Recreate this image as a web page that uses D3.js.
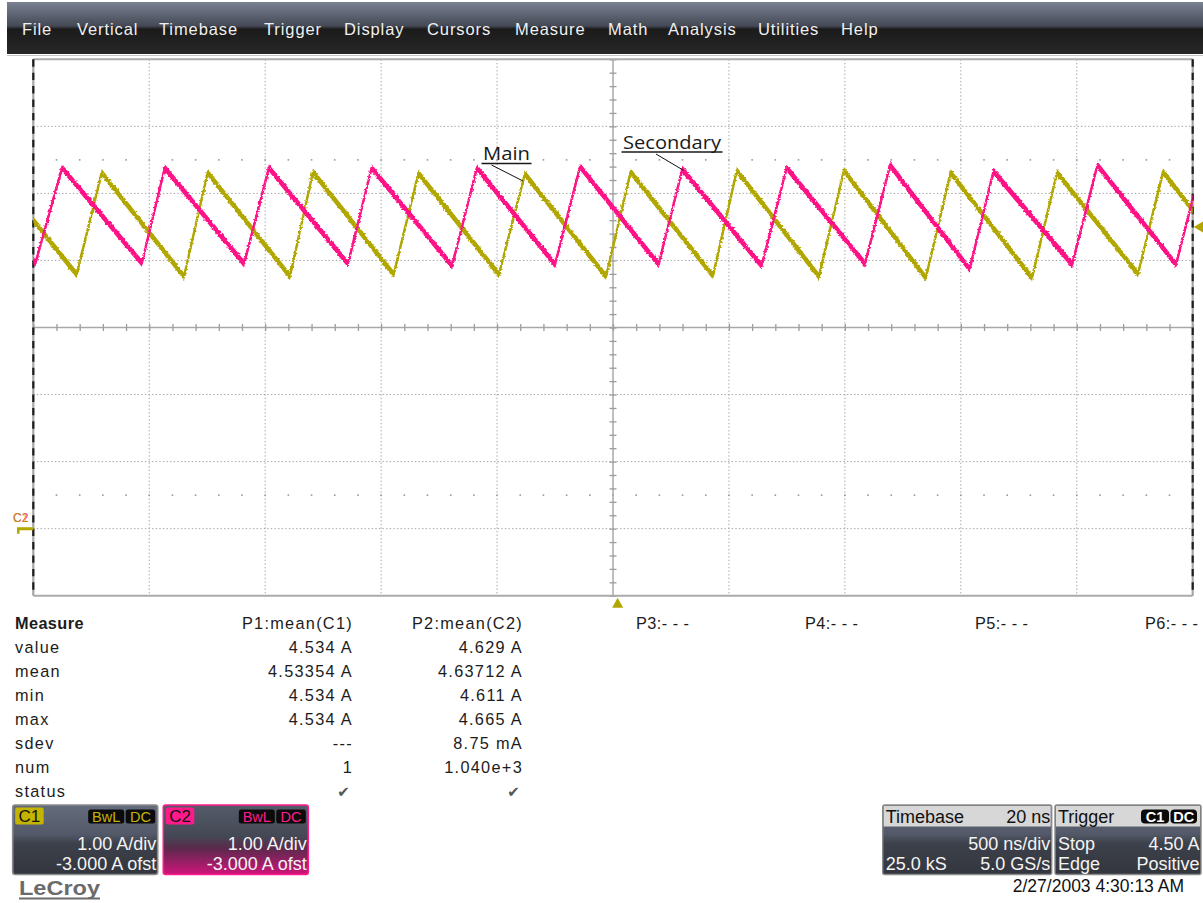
<!DOCTYPE html>
<html>
<head>
<meta charset="utf-8">
<script src="https://cdn.jsdelivr.net/npm/d3@7"></script>
<style>
  html, body { margin: 0; padding: 0; background: #fff; }
  svg { display: block; font-family: "Liberation Sans", Arial, sans-serif; }
</style>
</head>
<body>
<svg id="scope" width="1203" height="903"></svg>
<script>
// ---------------- data ----------------
const menuItems = ["File", "Vertical", "Timebase", "Trigger", "Display", "Cursors",
                   "Measure", "Math", "Analysis", "Utilities", "Help"];

// C1 (Main inductor current): sawtooth vertices, time in ns, current in A
const c1Times = [-2663, -2313, -2205, -1850, -1748, -1393, -1294, -946, -839, -492, -380, -30,
                 76, 431, 534, 888, 996, 1349, 1456, 1807, 1915, 2264, 2372, 2721];
const c1Amps  = [5.30, 3.79, 5.31, 3.76, 5.31, 3.76, 5.32, 3.79, 5.30, 3.79, 5.29, 3.76,
                 5.32, 3.77, 5.34, 3.76, 5.34, 3.74, 5.31, 3.74, 5.31, 3.80, 5.32, 3.77];

// C2 (Secondary inductor current)
const c2Times = [-2823, -2491, -2376, -2032, -1933, -1591, -1484, -1143, -1041, -694, -587, -250,
                 -142, 197, 299, 641, 749, 1087, 1195, 1538, 1641, 1980, 2089, 2428, 2536];
const c2Amps  = [5.40, 3.96, 5.38, 3.96, 5.38, 3.95, 5.38, 3.95, 5.38, 3.92, 5.38, 3.94,
                 5.40, 3.94, 5.36, 3.92, 5.38, 3.95, 5.42, 3.87, 5.33, 3.94, 5.42, 3.94, 5.40];

// acquisition settings
const timePerDiv = 500;      // ns/div
const hDivs = 10;
const ampsPerDiv = 1.0;      // A/div
const vDivs = 8;
const offsetAmps = -3.0;     // A ofst
const triggerDelay = 20;     // ns
const triggerLevel = 4.50;   // A

// annotations: label text and the vertex index they point at
const annotations = [
  { text: "Main",      series: "c1", index: 10 },
  { text: "Secondary", series: "c2", index: 14 }
];

// measurement table
const paramHeaders = ["P1:mean(C1)", "P2:mean(C2)", "P3:- - -", "P4:- - -", "P5:- - -", "P6:- - -"];
const measureRows  = ["value", "mean", "min", "max", "sdev", "num", "status"];
const p1Values     = ["4.534 A", "4.53354 A", "4.534 A", "4.534 A", "---", "1", "\u2714"];
const p2Values     = ["4.629 A", "4.63712 A", "4.611 A", "4.665 A", "8.75 mA", "1.040e+3", "\u2714"];

// status boxes
const channelBoxes = [
  { name: "C1", scale: "1.00 A/div", ofst: "-3.000 A ofst", color: "#c3b400" },
  { name: "C2", scale: "1.00 A/div", ofst: "-3.000 A ofst", color: "#ff1a8c" }
];
const timebaseInfo = { title: "Timebase", delay: "20 ns", perDiv: "500 ns/div", samples: "25.0 kS", rate: "5.0 GS/s" };
const triggerInfo  = { title: "Trigger", src: "C1", coupling: "DC", mode: "Stop", level: "4.50 A", type: "Edge", slope: "Positive" };
const timestamp = "2/27/2003 4:30:13 AM";

// ---------------- layout ----------------
const W = 1203, H = 903;
const plot = { left: 33.3, right: 1192.7, top: 59.3, bottom: 595.7 };
const menuX = [22, 77, 159, 264, 344, 427, 515, 608, 668, 758, 841];
const C1_COLOR = "#b1a700", C2_COLOR = "#ff1286";

const svg = d3.select("#scope");
const defs = svg.append("defs");

const centerAmps = -offsetAmps;
const x = d3.scaleLinear()
  .domain([-timePerDiv * hDivs / 2, timePerDiv * hDivs / 2])
  .range([plot.left, plot.right]);
const y = d3.scaleLinear()
  .domain([centerAmps - ampsPerDiv * vDivs / 2, centerAmps + ampsPerDiv * vDivs / 2])
  .range([plot.bottom, plot.top]);

// ---------------- gradients / filters ----------------
function vGrad(id, stops) {
  const g = defs.append("linearGradient").attr("id", id)
    .attr("x1", 0).attr("y1", 0).attr("x2", 0).attr("y2", 1);
  stops.forEach(([o, c]) => g.append("stop").attr("offset", o).attr("stop-color", c));
}
vGrad("menuGrad", [[0, "#7a8192"], [0.46, "#444955"], [0.52, "#1b1b1b"], [1, "#272727"]]);
vGrad("boxGrad",  [[0, "#656c7c"], [0.42, "#535968"], [0.55, "#3d414b"], [1, "#33363e"]]);
vGrad("box2Grad", [[0, "#555b69"], [0.45, "#444855"], [0.62, "#5a2a4c"], [1, "#d0147a"]]);

// slight roughness on the trace edges
const jitter = defs.append("filter").attr("id", "jitter")
  .attr("filterUnits", "userSpaceOnUse")
  .attr("x", 0).attr("y", 0).attr("width", W).attr("height", H);
jitter.append("feTurbulence").attr("type", "fractalNoise")
  .attr("baseFrequency", "0.4 0.55").attr("numOctaves", 1).attr("seed", 4).attr("result", "n");
jitter.append("feDisplacementMap").attr("in", "SourceGraphic").attr("in2", "n")
  .attr("scale", 3.4).attr("xChannelSelector", "R").attr("yChannelSelector", "G");

defs.append("clipPath").attr("id", "plotClip").append("rect")
  .attr("x", plot.left).attr("y", plot.top)
  .attr("width", plot.right - plot.left).attr("height", plot.bottom - plot.top);

// ---------------- menu bar ----------------
svg.append("rect").attr("x", 7).attr("y", 2).attr("width", W - 7).attr("height", 52)
  .attr("fill", "url(#menuGrad)");
svg.append("g").selectAll("text").data(menuItems).join("text")
  .attr("x", (d, i) => menuX[i]).attr("y", 35)
  .attr("fill", "#f0f0f0").attr("font-size", 16.5).attr("letter-spacing", 0.9)
  .text(d => d);
svg.append("line").attr("x1", 7).attr("x2", W).attr("y1", 55.5).attr("y2", 55.5)
  .attr("stroke", "#c4c4c4").attr("stroke-width", 1);

// ---------------- grid ----------------
const grid = svg.append("g");
const vLines = d3.range(1, hDivs).map(i => x.domain()[0] + i * timePerDiv);
const hLines = d3.range(1, vDivs).map(i => y.domain()[0] + i * ampsPerDiv);

grid.selectAll(".vg").data(vLines.filter(t => t !== 0)).join("line")
  .attr("x1", d => x(d)).attr("x2", d => x(d))
  .attr("y1", plot.top).attr("y2", plot.bottom)
  .attr("stroke", "#a3a3a3").attr("stroke-width", 1).attr("stroke-dasharray", "1.4,2.2");
grid.selectAll(".hg").data(hLines.filter(a => a !== centerAmps)).join("line")
  .attr("x1", plot.left).attr("x2", plot.right)
  .attr("y1", d => y(d)).attr("y2", d => y(d))
  .attr("stroke", "#a3a3a3").attr("stroke-width", 1).attr("stroke-dasharray", "1.4,2.2");

// minor dot rows half a division inside the outer grid lines
const minorT = d3.range(x.domain()[0], x.domain()[1] + 1, timePerDiv / 5);
[y.domain()[1] - 1.5 * ampsPerDiv, y.domain()[0] + 1.5 * ampsPerDiv].forEach(a => {
  grid.append("g").selectAll("rect").data(minorT.slice(1, -1)).join("rect")
    .attr("x", d => x(d) - 0.8).attr("y", y(a) - 0.8)
    .attr("width", 1.6).attr("height", 1.6).attr("fill", "#9a9a9a");
});

// center cross with minor ticks
grid.append("line").attr("x1", plot.left).attr("x2", plot.right)
  .attr("y1", y(centerAmps)).attr("y2", y(centerAmps))
  .attr("stroke", "#a8a8a8").attr("stroke-width", 1.5);
grid.append("line").attr("x1", x(0)).attr("x2", x(0))
  .attr("y1", plot.top).attr("y2", plot.bottom)
  .attr("stroke", "#a8a8a8").attr("stroke-width", 1.5);

const minorA = d3.range(0, vDivs * 5 + 1).map(i => y.domain()[0] + i * ampsPerDiv / 5);
function tickStyle(g) {
  g.select(".domain").remove();
  g.selectAll(".tick line").attr("stroke", "#9c9c9c").attr("stroke-width", 1.3);
  g.selectAll(".tick text").remove();
}
grid.append("g").attr("transform", `translate(0,${y(centerAmps)})`)
  .call(d3.axisBottom(x).tickValues(minorT).tickSize(3.5).tickFormat("")).call(tickStyle);
grid.append("g").attr("transform", `translate(0,${y(centerAmps)})`)
  .call(d3.axisTop(x).tickValues(minorT).tickSize(3.5).tickFormat("")).call(tickStyle);
grid.append("g").attr("transform", `translate(${x(0)},0)`)
  .call(d3.axisRight(y).tickValues(minorA).tickSize(3.5).tickFormat("")).call(tickStyle);
grid.append("g").attr("transform", `translate(${x(0)},0)`)
  .call(d3.axisLeft(y).tickValues(minorA).tickSize(3.5).tickFormat("")).call(tickStyle);

// frame
grid.append("line").attr("x1", plot.left).attr("x2", plot.right).attr("y1", plot.top).attr("y2", plot.top)
  .attr("stroke", "#ababab").attr("stroke-width", 2);
grid.append("line").attr("x1", plot.left).attr("x2", plot.right).attr("y1", plot.bottom).attr("y2", plot.bottom)
  .attr("stroke", "#ababab").attr("stroke-width", 2);
const minorStep = y(minorA[0]) - y(minorA[1]);
[plot.left, plot.right].forEach(px => {
  grid.append("line").attr("x1", px).attr("x2", px).attr("y1", plot.top).attr("y2", plot.bottom)
    .attr("stroke", "#a5a5a5").attr("stroke-width", 2.2);
  grid.append("line").attr("x1", px).attr("x2", px).attr("y1", plot.top).attr("y2", plot.bottom)
    .attr("stroke", "#1e1e1e").attr("stroke-width", 2.2)
    .attr("stroke-dasharray", `${minorStep * 0.55},${minorStep * 0.45}`);
});

// ---------------- traces ----------------
const c1 = c1Times.map((t, i) => ({ t, v: c1Amps[i] }));
const c2 = c2Times.map((t, i) => ({ t, v: c2Amps[i] }));
const bandPx = 3.7;   // vertical noise band half-height on screen
const bandArea = d3.area().x(d => x(d.t)).y0(d => y(d.v) + bandPx).y1(d => y(d.v) - bandPx);
const traceLine = d3.line().x(d => x(d.t)).y(d => y(d.v));

const traces = svg.append("g").attr("clip-path", "url(#plotClip)")
  .append("g").attr("filter", "url(#jitter)");
[[c1, C1_COLOR], [c2, C2_COLOR]].forEach(([data, color]) => {
  traces.append("path").datum(data).attr("d", bandArea).attr("fill", color);
  traces.append("path").datum(data).attr("d", traceLine)
    .attr("fill", "none").attr("stroke", color).attr("stroke-width", 2.4)
    .attr("stroke-linejoin", "round");
});

// ---------------- annotations ----------------
const seriesData = { c1, c2 };
const annLayout = {
  Main:      { tx: 483, ty: 160, width: 47, lineFrom: [491.5, 165], off: [-2, 7] },
  Secondary: { tx: 623, ty: 148.5, width: 98, lineFrom: [656, 154], off: [1, 1] }
};
annotations.forEach(a => {
  const L = annLayout[a.text];
  const p = seriesData[a.series][a.index];
  const g = svg.append("g");
  g.append("text").attr("x", L.tx).attr("y", L.ty)
    .attr("font-family", "'Open Sans', sans-serif").attr("font-size", 19)
    .attr("fill", "#1a1a1a").attr("textLength", L.width).attr("lengthAdjust", "spacingAndGlyphs")
    .text(a.text);
  g.append("line").attr("x1", L.tx - 1.5).attr("x2", L.tx + L.width + 1.5)
    .attr("y1", L.ty + 3.5).attr("y2", L.ty + 3.5)
    .attr("stroke", "#1a1a1a").attr("stroke-width", 1.4);
  g.append("line").attr("x1", L.lineFrom[0]).attr("y1", L.lineFrom[1])
    .attr("x2", x(p.t) + L.off[0]).attr("y2", y(p.v) + L.off[1])
    .attr("stroke", "#111").attr("stroke-width", 1);
});

// ---------------- markers ----------------
const gy = y(0);
svg.append("text").attr("x", 13).attr("y", gy - 7).attr("font-size", 12)
  .attr("fill", C2_COLOR).text("C2");
svg.append("text").attr("x", 13).attr("y", gy - 7).attr("font-size", 12)
  .attr("fill", C1_COLOR).attr("fill-opacity", 0.85).text("C1");
svg.append("path")
  .attr("d", `M17,${gy + 5} L17,${gy - 1.5} L${plot.left},${gy - 1.5} L${plot.left},${gy + 1.5} L19.5,${gy + 1.5} L19.5,${gy + 5} Z`)
  .attr("fill", C1_COLOR);

// trigger level (right edge) and trigger time (below grid)
const tl = y(triggerLevel);
svg.append("path")
  .attr("d", `M${plot.right + 1},${tl} L${W},${tl - 5.5} L${W},${tl + 5.5} Z`).attr("fill", C1_COLOR);
const tx = x(triggerDelay);
svg.append("path")
  .attr("d", `M${tx},${plot.bottom + 2} L${tx + 5.5},${plot.bottom + 12} L${tx - 5.5},${plot.bottom + 12} Z`)
  .attr("fill", C1_COLOR);

// ---------------- measurement table ----------------
const table = svg.append("g").attr("fill", "#1c1c1c").attr("font-size", 16.3).attr("letter-spacing", 1.3);
const rowY0 = 629, rowStep = 24;
table.append("text").attr("x", 15).attr("y", rowY0).attr("font-weight", "bold")
  .attr("letter-spacing", 0.4).text("Measure");
const headX = [353, 523, 636, 805, 975, 1145];
paramHeaders.forEach((h, i) => {
  table.append("text").attr("x", headX[i]).attr("y", rowY0)
    .attr("letter-spacing", i < 2 ? null : 0.45)
    .attr("text-anchor", i < 2 ? "end" : "start").text(h);
});
measureRows.forEach((r, i) => {
  const yy = rowY0 + rowStep * (i + 1);
  table.append("text").attr("x", 15).attr("y", yy).text(r);
  [p1Values, p2Values].forEach((vals, j) => {
    const isCheck = vals[i] === "\u2714";
    table.append("text").attr("x", headX[j] - (isCheck ? 2 : 0)).attr("y", yy)
      .attr("text-anchor", "end")
      .attr("fill", isCheck ? "#555" : null)
      .attr("font-family", isCheck ? "'DejaVu Sans', sans-serif" : null)
      .attr("font-size", isCheck ? 15 : null)
      .text(vals[i]);
  });
});

// ---------------- status boxes ----------------
const boxTop = 805, boxH = 69.5;
function tag(g, x0, w, fill, txt, txtFill) {
  g.append("rect").attr("x", x0).attr("y", boxTop + 4.5).attr("width", w).attr("height", 14)
    .attr("rx", 2.5).attr("fill", fill);
  g.append("text").attr("x", x0 + w / 2).attr("y", boxTop + 16.5).attr("text-anchor", "middle")
    .attr("font-size", 14.5).attr("fill", txtFill).text(txt);
}
const chanX = [12.7, 163.3], chanW = 145;
channelBoxes.forEach((c, i) => {
  const g = svg.append("g");
  const x0 = chanX[i];
  g.append("rect").attr("x", x0).attr("y", boxTop).attr("width", chanW).attr("height", boxH)
    .attr("rx", 2.5).attr("fill", i === 0 ? "url(#boxGrad)" : "url(#box2Grad)")
    .attr("stroke", i === 0 ? "#8a8a8a" : c.color).attr("stroke-width", 1.6);
  g.append("rect").attr("x", x0 + 2.5).attr("y", boxTop + 2.5).attr("width", 28.5).attr("height", 17)
    .attr("rx", 2).attr("fill", c.color);
  g.append("text").attr("x", x0 + 16.7).attr("y", boxTop + 17).attr("text-anchor", "middle")
    .attr("font-size", 17).attr("fill", "#111").text(c.name);
  tag(g, x0 + 75.5, 36, "#0b0b0b", "BwL", c.color);
  tag(g, x0 + 113, 29.5, "#0b0b0b", "DC", c.color);
  g.append("text").attr("x", x0 + chanW - 1.5).attr("y", boxTop + 45).attr("text-anchor", "end")
    .attr("font-size", 18).attr("fill", "#f4f4f4").text(c.scale);
  g.append("text").attr("x", x0 + chanW - 1.5).attr("y", boxTop + 64.5).attr("text-anchor", "end")
    .attr("font-size", 18).attr("fill", "#f4f4f4").text(c.ofst);
});

function infoBox(x0, w, rows, headerExtra) {
  const g = svg.append("g");
  g.append("rect").attr("x", x0).attr("y", boxTop).attr("width", w).attr("height", boxH)
    .attr("rx", 2).attr("fill", "url(#boxGrad)").attr("stroke", "#8a8a8a").attr("stroke-width", 1.4);
  g.append("rect").attr("x", x0 + 1).attr("y", boxTop + 1).attr("width", w - 2).attr("height", 20.5)
    .attr("fill", "#d7d7d7");
  rows.forEach((r, i) => {
    const yy = [boxTop + 18, boxTop + 45, boxTop + 64.5][i];
    const fill = i === 0 ? "#111" : "#f4f4f4";
    if (r[0]) g.append("text").attr("x", x0 + 3).attr("y", yy).attr("font-size", 18).attr("fill", fill).text(r[0]);
    if (r[1]) g.append("text").attr("x", x0 + w - 1.5).attr("y", yy).attr("text-anchor", "end")
      .attr("font-size", 18).attr("fill", fill).text(r[1]);
  });
  if (headerExtra) headerExtra(g);
}
infoBox(882.7, 169, [
  [timebaseInfo.title, timebaseInfo.delay],
  [null, timebaseInfo.perDiv],
  [timebaseInfo.samples, timebaseInfo.rate]
]);
infoBox(1055, 146, [
  [triggerInfo.title, null],
  [triggerInfo.mode, triggerInfo.level],
  [triggerInfo.type, triggerInfo.slope]
], g => {
  [[1141, 28, triggerInfo.src], [1170.5, 26.5, triggerInfo.coupling]].forEach(([bx, bw, t]) => {
    g.append("rect").attr("x", bx).attr("y", boxTop + 4.5).attr("width", bw).attr("height", 14)
      .attr("rx", 4).attr("fill", "#0a0a0a");
    g.append("text").attr("x", bx + bw / 2).attr("y", boxTop + 16.5).attr("text-anchor", "middle")
      .attr("font-size", 14.5).attr("font-weight", "bold").attr("fill", "#fff").text(t);
  });
});

// timestamp and brand
svg.append("text").attr("x", 1184).attr("y", 892).attr("text-anchor", "end")
  .attr("font-size", 17.5).attr("fill", "#111").text(timestamp);
svg.append("text").attr("x", 19).attr("y", 895).attr("font-size", 20).attr("font-weight", "bold")
  .attr("fill", "#6b6b6b").attr("textLength", 81).attr("lengthAdjust", "spacingAndGlyphs").text("LeCroy");
svg.append("line").attr("x1", 19).attr("x2", 100).attr("y1", 898.5).attr("y2", 898.5)
  .attr("stroke", "#6b6b6b").attr("stroke-width", 2);
</script>
</body>
</html>
